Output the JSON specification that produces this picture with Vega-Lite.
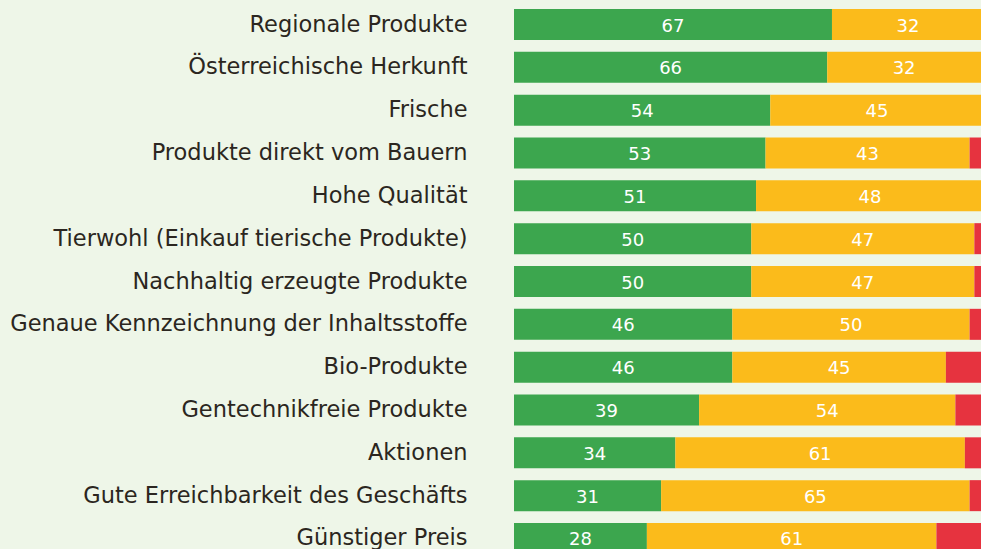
{
  "$schema": "https://vega.github.io/schema/vega-lite/v6.json",
  "width": 467,
  "height": 549,
  "autosize": {"type": "none"},
  "padding": {"left": 514, "top": 0, "right": 0, "bottom": 0},
  "background": "#eef6e8",
  "config": {"view": {"stroke": null}},
  "data": {"values": [
    {"cat": "Regionale Produkte", "k": "g", "o": 1, "v": 67},
    {"cat": "Regionale Produkte", "k": "y", "o": 2, "v": 32},
    {"cat": "Regionale Produkte", "k": "r", "o": 3, "v": 1},
    {"cat": "Österreichische Herkunft", "k": "g", "o": 1, "v": 66},
    {"cat": "Österreichische Herkunft", "k": "y", "o": 2, "v": 32.4},
    {"cat": "Österreichische Herkunft", "k": "r", "o": 3, "v": 1.6},
    {"cat": "Frische", "k": "g", "o": 1, "v": 54},
    {"cat": "Frische", "k": "y", "o": 2, "v": 45},
    {"cat": "Frische", "k": "r", "o": 3, "v": 1},
    {"cat": "Produkte direkt vom Bauern", "k": "g", "o": 1, "v": 53},
    {"cat": "Produkte direkt vom Bauern", "k": "y", "o": 2, "v": 43},
    {"cat": "Produkte direkt vom Bauern", "k": "r", "o": 3, "v": 4},
    {"cat": "Hohe Qualität", "k": "g", "o": 1, "v": 51},
    {"cat": "Hohe Qualität", "k": "y", "o": 2, "v": 48},
    {"cat": "Hohe Qualität", "k": "r", "o": 3, "v": 1},
    {"cat": "Tierwohl (Einkauf tierische Produkte)", "k": "g", "o": 1, "v": 50},
    {"cat": "Tierwohl (Einkauf tierische Produkte)", "k": "y", "o": 2, "v": 47},
    {"cat": "Tierwohl (Einkauf tierische Produkte)", "k": "r", "o": 3, "v": 3},
    {"cat": "Nachhaltig erzeugte Produkte", "k": "g", "o": 1, "v": 50},
    {"cat": "Nachhaltig erzeugte Produkte", "k": "y", "o": 2, "v": 47},
    {"cat": "Nachhaltig erzeugte Produkte", "k": "r", "o": 3, "v": 3},
    {"cat": "Genaue Kennzeichnung der Inhaltsstoffe", "k": "g", "o": 1, "v": 46},
    {"cat": "Genaue Kennzeichnung der Inhaltsstoffe", "k": "y", "o": 2, "v": 50},
    {"cat": "Genaue Kennzeichnung der Inhaltsstoffe", "k": "r", "o": 3, "v": 4},
    {"cat": "Bio-Produkte", "k": "g", "o": 1, "v": 46},
    {"cat": "Bio-Produkte", "k": "y", "o": 2, "v": 45},
    {"cat": "Bio-Produkte", "k": "r", "o": 3, "v": 9},
    {"cat": "Gentechnikfreie Produkte", "k": "g", "o": 1, "v": 39},
    {"cat": "Gentechnikfreie Produkte", "k": "y", "o": 2, "v": 54},
    {"cat": "Gentechnikfreie Produkte", "k": "r", "o": 3, "v": 7},
    {"cat": "Aktionen", "k": "g", "o": 1, "v": 34},
    {"cat": "Aktionen", "k": "y", "o": 2, "v": 61},
    {"cat": "Aktionen", "k": "r", "o": 3, "v": 5},
    {"cat": "Gute Erreichbarkeit des Geschäfts", "k": "g", "o": 1, "v": 31},
    {"cat": "Gute Erreichbarkeit des Geschäfts", "k": "y", "o": 2, "v": 65},
    {"cat": "Gute Erreichbarkeit des Geschäfts", "k": "r", "o": 3, "v": 4},
    {"cat": "Günstiger Preis", "k": "g", "o": 1, "v": 28},
    {"cat": "Günstiger Preis", "k": "y", "o": 2, "v": 61},
    {"cat": "Günstiger Preis", "k": "r", "o": 3, "v": 11}
  ]},
  "transform": [
    {"stack": "v", "groupby": ["cat"], "sort": [{"field": "o", "order": "ascending"}], "as": ["v0", "v1"]}
  ],
  "encoding": {
    "y": {
      "field": "cat", "type": "nominal", "sort": null,
      "scale": {"range": [3.1, 559.9], "paddingInner": 0.276, "paddingOuter": 0.138},
      "axis": {"title": null, "domain": false, "ticks": false, "labelPadding": 47, "labelFont": "DejaVu Sans", "labelFontSize": 22.5, "labelColor": "#2b2620", "labelLimit": 600}
    }
  },
  "layer": [
    {
      "mark": {"type": "bar"},
      "encoding": {
        "x": {"field": "v0", "type": "quantitative", "scale": {"domain": [0, 98.4], "nice": false}, "axis": null},
        "x2": {"field": "v1"},
        "color": {"field": "k", "type": "nominal", "scale": {"domain": ["g", "y", "r"], "range": ["#3ca64e", "#fbbb1b", "#e6333f"]}, "legend": null}
      }
    },
    {
      "transform": [
        {"filter": "datum.k != 'r'"},
        {"calculate": "(datum.v0 + datum.v1) / 2", "as": "mid"}
      ],
      "mark": {"type": "text", "color": "white", "font": "DejaVu Sans", "fontSize": 18, "baseline": "middle", "dy": 2},
      "encoding": {
        "x": {"field": "mid", "type": "quantitative"},
        "text": {"field": "v", "type": "quantitative", "format": ".0f"}
      }
    }
  ]
}
